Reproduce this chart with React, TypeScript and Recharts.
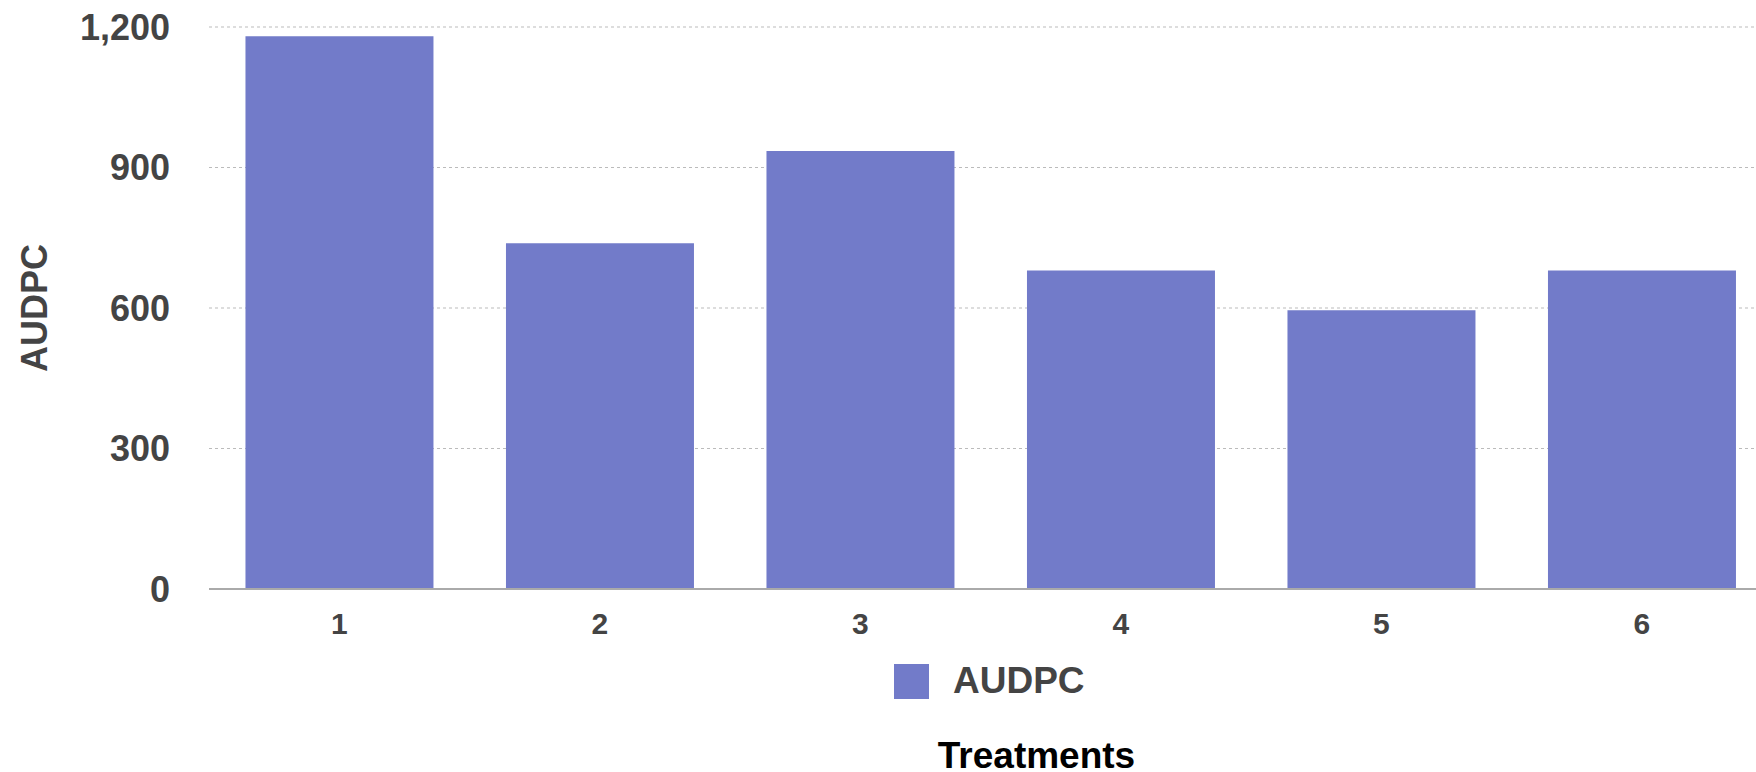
import { BarChart, Bar, XAxis, YAxis, CartesianGrid, Legend, Label } from 'recharts'

const treatments = ['1', '2', '3', '4', '5', '6']
const audpc = [1180, 738, 935, 680, 595, 680]
const yTicks = [0, 300, 600, 900, 1200]

const BAR_COLOR = '#727BC9'
const TEXT_COLOR = '#444444'
const FONT = '"Liberation Sans", Arial, Helvetica, sans-serif'

const data = treatments.map((t, i) => ({ treatment: t, AUDPC: audpc[i] }))

function LegendContent() {
  return (
    <div style={{ display: 'flex', alignItems: 'center', height: 40, fontFamily: FONT }}>
      <span style={{ width: 35, height: 35, background: BAR_COLOR, display: 'inline-block' }} />
      <span style={{ marginLeft: 24, fontSize: 37, fontWeight: 'bold', color: TEXT_COLOR, lineHeight: '40px' }}>
        AUDPC
      </span>
    </div>
  )
}

export default function App() {
  return (
    <div
      style={{
        position: 'fixed',
        left: 0,
        top: 0,
        width: 1756,
        height: 772,
        overflow: 'hidden',
        background: '#fff',
        fontFamily: FONT,
      }}
    >
      <BarChart
        width={1772}
        height={772}
        data={data}
        margin={{ top: 27, right: 0, left: 0, bottom: 0 }}
        barCategoryGap="14%"
      >
        <CartesianGrid vertical={false} stroke="#bbbbbb" strokeDasharray="3 3" />
        <XAxis
          dataKey="treatment"
          height={143}
          axisLine={{ stroke: '#aaaaaa', strokeWidth: 2 }}
          tickLine={false}
          tickSize={0}
          tickMargin={24}
          tick={{ fill: TEXT_COLOR, fontSize: 30, fontWeight: 'bold', fontFamily: FONT }}
        >
          <Label
            content={({ viewBox }: any) => (
              <text
                x={viewBox.x + viewBox.width / 2 + 46}
                y={viewBox.y + 179}
                textAnchor="middle"
                fill="#000"
                fontSize={37}
                fontWeight="bold"
                fontFamily={FONT}
              >
                Treatments
              </text>
            )}
          />
        </XAxis>
        <YAxis
          width={209}
          domain={[0, 1200]}
          ticks={yTicks}
          axisLine={false}
          tickLine={false}
          tickSize={0}
          tickMargin={39}
          tickFormatter={(v: number) => v.toLocaleString('en-US')}
          tick={{ fill: TEXT_COLOR, fontSize: 36, fontWeight: 'bold', fontFamily: FONT }}
        >
          <Label
            value="AUDPC"
            angle={-90}
            position="center"
            dx={-70}
            fill={TEXT_COLOR}
            fontSize={36}
            fontWeight="bold"
            fontFamily={FONT}
          />
        </YAxis>
        <Legend
          content={<LegendContent />}
          wrapperStyle={{ top: 661, left: 894, width: 'auto', height: 40 }}
        />
        <Bar dataKey="AUDPC" fill={BAR_COLOR} isAnimationActive={false} />
      </BarChart>
    </div>
  )
}
